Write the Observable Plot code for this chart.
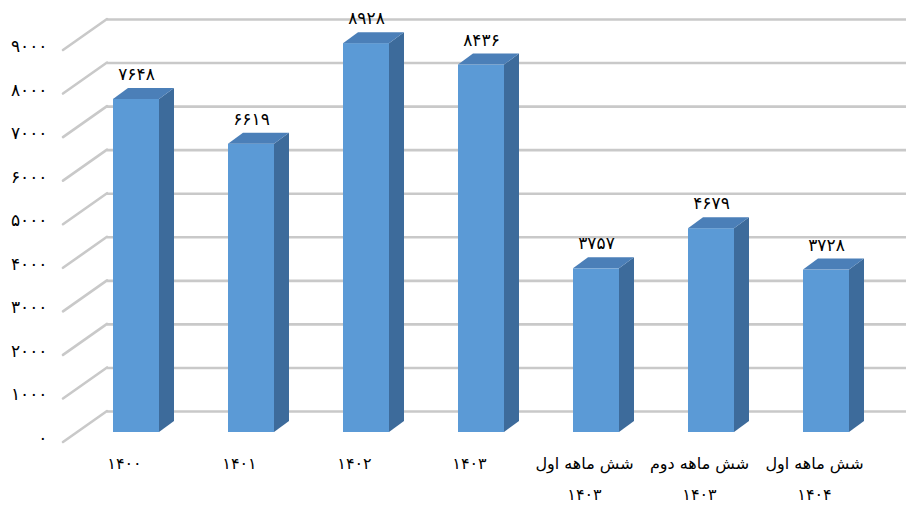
<!DOCTYPE html>
<html>
<head>
<meta charset="utf-8">
<script src="https://cdn.jsdelivr.net/npm/d3@7"></script>
<script src="https://cdn.jsdelivr.net/npm/@observablehq/plot@0.6"></script>
<style>
  html, body { margin: 0; padding: 0; background: #ffffff; }
  #chart svg { display: block; }
</style>
</head>
<body>
<div id="chart"></div>
<script>
// Categories (x axis), with line breaks as in the reference
const categories = [
  "۱۴۰۰",
  "۱۴۰۱",
  "۱۴۰۲",
  "۱۴۰۳",
  "شش ماهه اول\n۱۴۰۳",
  "شش ماهه دوم\n۱۴۰۳",
  "شش ماهه اول\n۱۴۰۴"
];
// Series values
const values = [7648, 6619, 8928, 8436, 3757, 4679, 3728];
// Value labels as printed on the bars
const valueLabels = ["۷۶۴۸", "۶۶۱۹", "۸۹۲۸", "۸۴۳۶", "۳۷۵۷", "۴۶۷۹", "۳۷۲۸"];
// Y ticks and their labels
const yTicks = [0, 1000, 2000, 3000, 4000, 5000, 6000, 7000, 8000, 9000];
const yTickLabels = ["۰", "۱۰۰۰", "۲۰۰۰", "۳۰۰۰", "۴۰۰۰", "۵۰۰۰", "۶۰۰۰", "۷۰۰۰", "۸۰۰۰", "۹۰۰۰"];

const data = categories.map((c, i) => ({cat: c, value: values[i], label: valueLabels[i]}));

const FRONT = "#5b9ad6", SIDE = "#3d6b9b", TOP = "#4b7fb8", GRID = "#c9c9c9";
const DX = 15, DY = -11;          // bar depth
const WX = 44, WY = -31;          // wall depth

function sideFace(I, s, v, d, c, next) {
  const g = next(I, s, v, d, c);
  g.querySelectorAll("rect").forEach(r => {
    const x = +r.getAttribute("x"), w = +r.getAttribute("width");
    const a = x + w, k = DY / DX;
    r.setAttribute("x", a);
    r.setAttribute("width", DX);
    r.setAttribute("transform", `matrix(1,${k},0,1,0,${-a * k})`);
  });
  return g;
}
function topFace(I, s, v, d, c, next) {
  const g = next(I, s, v, d, c);
  g.querySelectorAll("rect").forEach(r => {
    const y = +r.getAttribute("y"), k = DX / DY;
    r.setAttribute("y", y + DY);
    r.setAttribute("height", -DY);
    r.setAttribute("transform", `matrix(1,0,${k},1,${-k * y},0)`);
  });
  return g;
}
function sideWall(index, scales, values, dims) {
  const g = d3.create("svg:g");
  for (const t of yTicks) {
    const y = scales.y(t);
    g.append("line")
      .attr("x1", dims.marginLeft - 13).attr("y1", y + 10)
      .attr("x2", dims.marginLeft - 13 + WX).attr("y2", y + 10 + WY)
      .attr("stroke", GRID).attr("stroke-width", 2.6).attr("stroke-linecap", "round");
  }
  return g.node();
}

const chart = Plot.plot({
  width: 906,
  height: 506,
  marginLeft: 76,
  marginRight: 20,
  marginTop: 40,
  marginBottom: 74,
  style: {fontFamily: "'DejaVu Sans', sans-serif", fontSize: "16px", background: "#ffffff", color: "#000"},
  x: {domain: categories, paddingInner: 0.6, paddingOuter: 0.3, axis: null},
  y: {domain: [0, 9000], axis: null},
  marks: [
    sideWall,
    Plot.ruleY(yTicks, {insetLeft: 31, insetRight: -20, dy: WY + 10, stroke: GRID, strokeWidth: 2.6}),
    Plot.barY(data, {x: "cat", y: "value", fill: FRONT}),
    Plot.barY(data, {x: "cat", y: "value", fill: SIDE, render: sideFace}),
    Plot.barY(data, {x: "cat", y: "value", fill: TOP, render: topFace}),
    Plot.text(data, {x: "cat", y: "value", text: "label", dy: -25, fontSize: 17, fill: "#000"}),
    Plot.text(data, {x: "cat", y: () => 0, text: "cat", dx: -12, dy: 14, lineAnchor: "top", lineHeight: 1.94, fontSize: 16, fill: "#000"}),
    Plot.text(yTicks, {x: null, y: d => d, frameAnchor: "left", text: (d, i) => yTickLabels[i], textAnchor: "end", dx: -29, dy: 6, fontSize: 17, fill: "#000"})
  ]
});
document.getElementById("chart").appendChild(chart);
</script>
</body>
</html>
